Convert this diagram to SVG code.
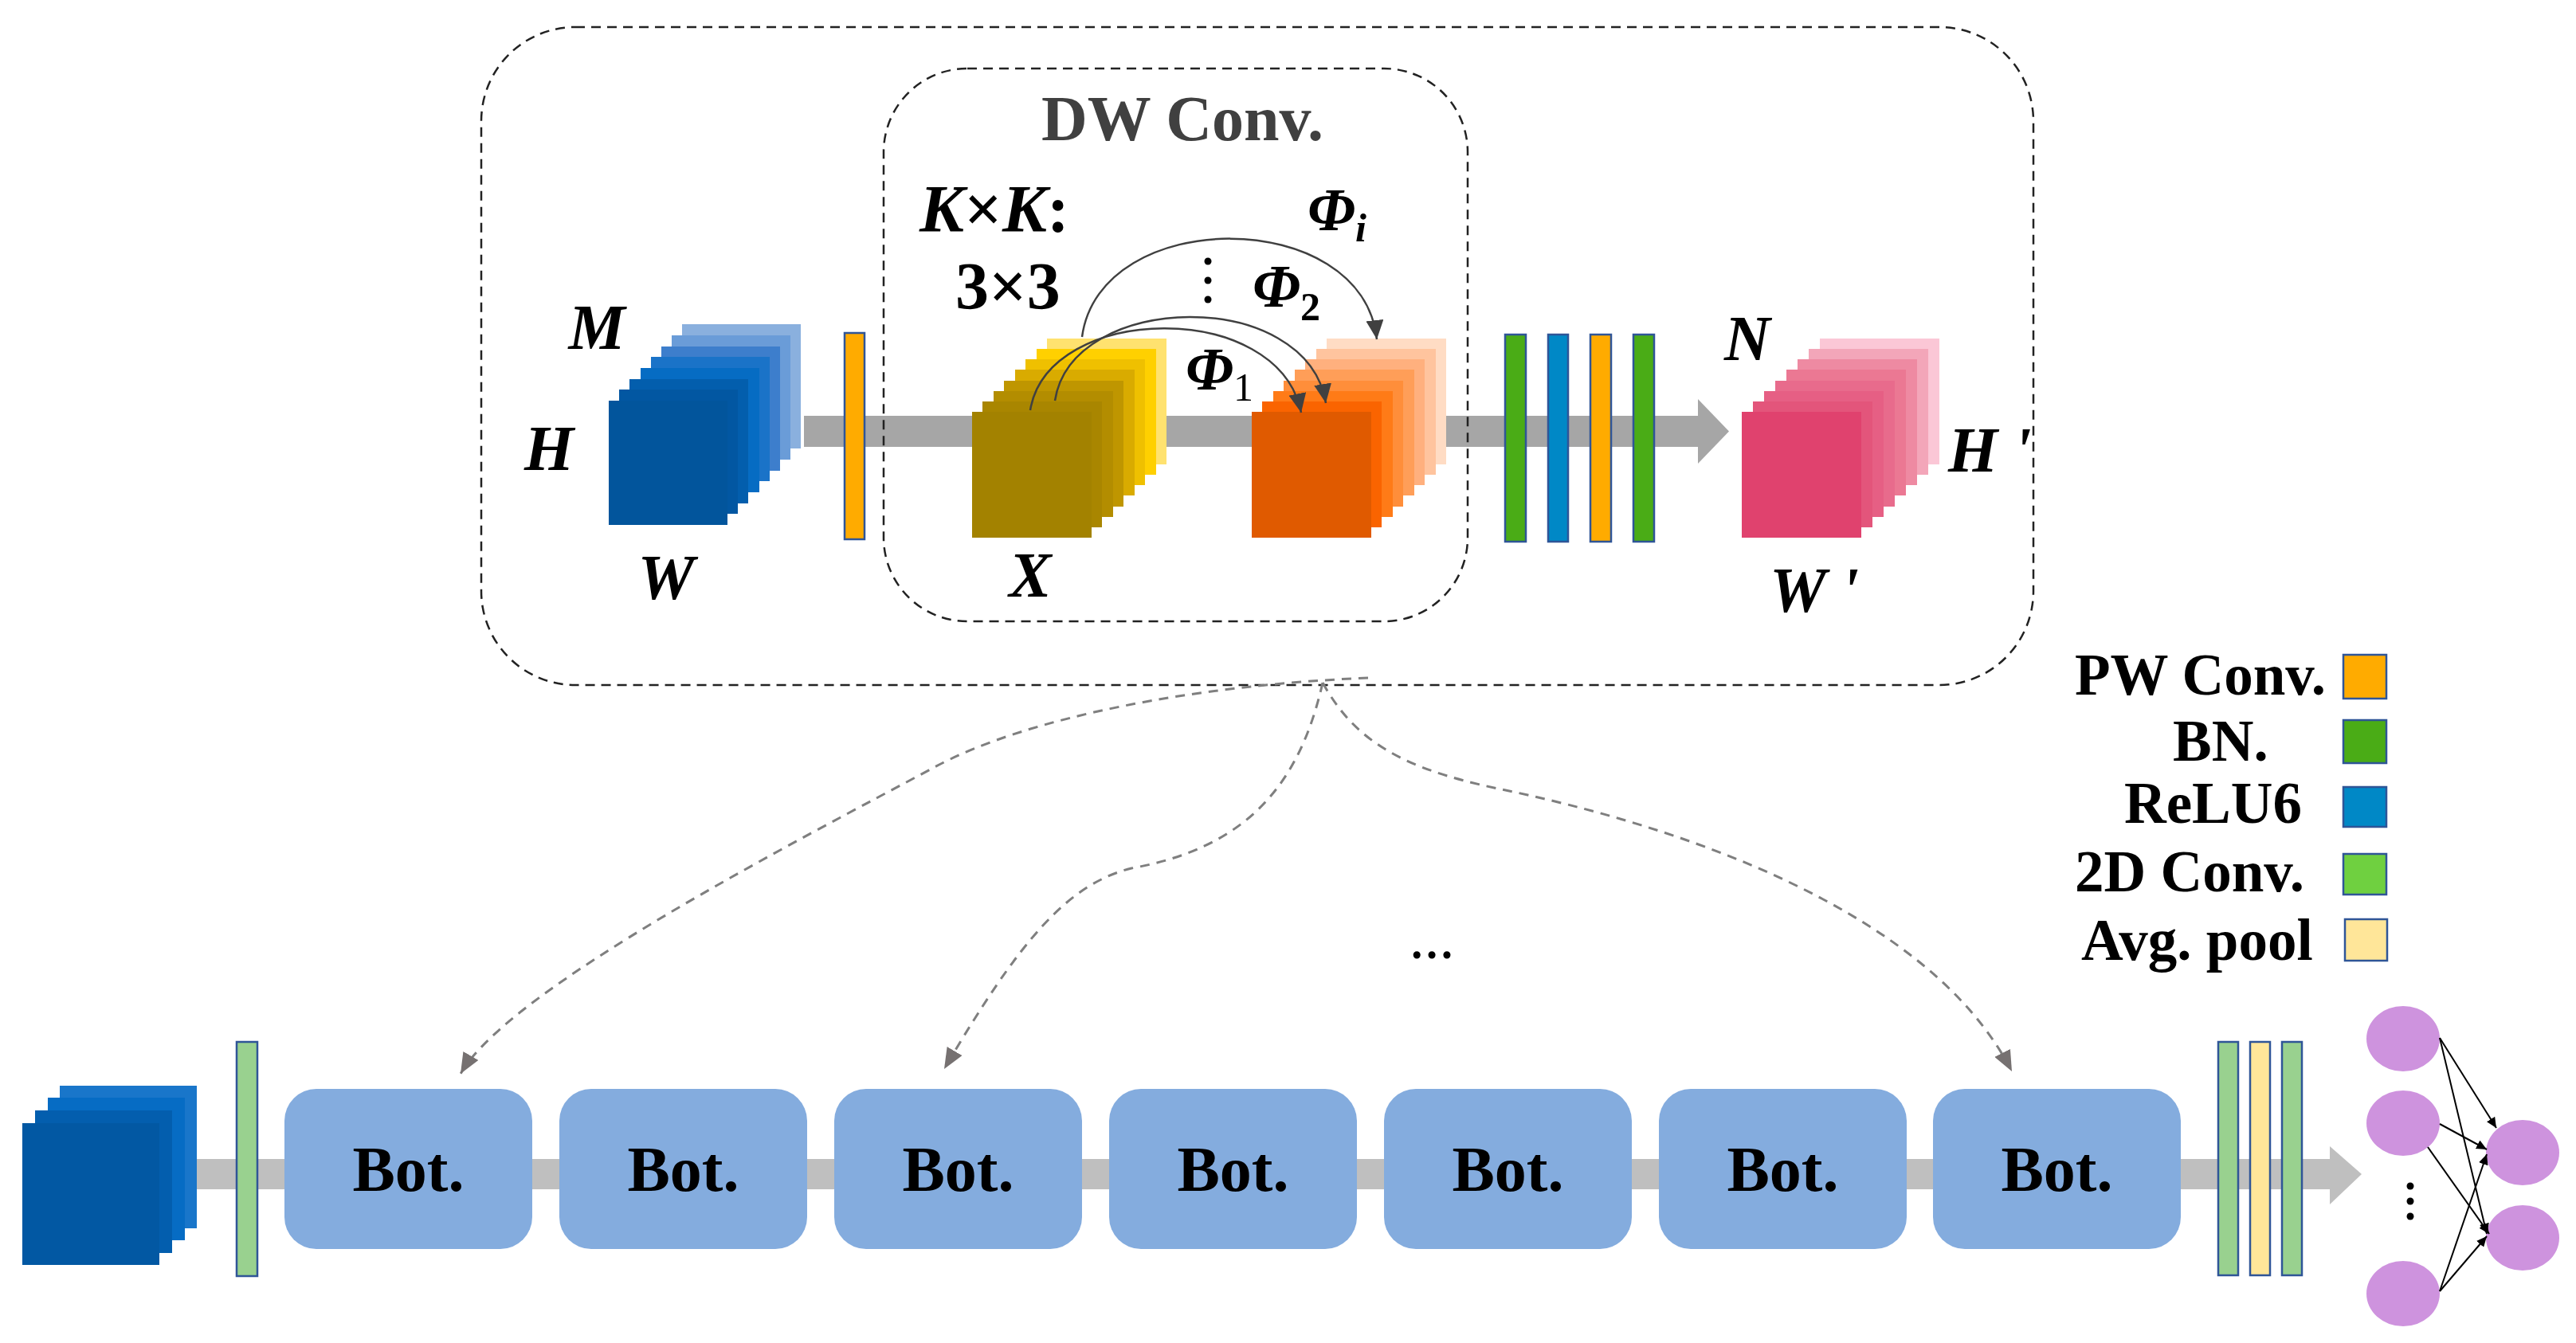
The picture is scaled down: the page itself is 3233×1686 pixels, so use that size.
<svg xmlns="http://www.w3.org/2000/svg" width="3233" height="1686" viewBox="0 0 3233 1686">
<style>
.box{fill:none;stroke:#222;stroke-width:2.5;stroke-dasharray:12 8}
.bar{stroke:#2F5597;stroke-width:2.5}
.t{font-family:"Liberation Serif","Times New Roman",serif;font-weight:bold;fill:#000}
.ti{font-family:"Liberation Serif","Times New Roman",serif;font-weight:bold;font-style:italic;fill:#000}
.arc{fill:none;stroke:#404040;stroke-width:2.5}
.dash{fill:none;stroke:#7F7F7F;stroke-width:3;stroke-dasharray:12 9}
.bot{fill:#84ACDE}
.nn{fill:#CE93DE}
.nl{stroke:#000;stroke-width:2}
</style>
<defs>
<marker id="ah" markerUnits="userSpaceOnUse" markerWidth="26" markerHeight="22" refX="24" refY="11" orient="auto"><path d="M0,0 L24,11 L0,22 Z" fill="#404040"/></marker>
<marker id="gh" markerUnits="userSpaceOnUse" markerWidth="28" markerHeight="22" refX="26" refY="11" orient="auto"><path d="M0,0 L26,11 L0,22 Z" fill="#767171"/></marker>
<marker id="bh" markerUnits="userSpaceOnUse" markerWidth="14" markerHeight="12" refX="13" refY="6" orient="auto"><path d="M0,0 L13,6 L0,12 Z" fill="#000"/></marker>
</defs>

<g id="block-frame">
<rect class="box" x="604" y="34" width="1948" height="826" rx="118" ry="118"/>
</g>

<g id="top-flow">
<rect x="1009" y="522" width="1122" height="39" fill="#A6A6A6"/>
<polygon points="2131,501 2170,541.5 2131,582" fill="#A6A6A6"/>
</g>

<g id="dw-frame">
<rect class="box" x="1109" y="86" width="733" height="694" rx="105" ry="105"/>
<text class="t" x="1484" y="176" font-size="80" text-anchor="middle" fill="#404040" style="fill:#404040">DW Conv.</text>
</g>

<g id="input-tensor">
<rect x="856" y="407" width="149" height="156" fill="#8AB0DE"/>
<rect x="843" y="421" width="149" height="156" fill="#6A9CD8"/>
<rect x="830" y="435" width="149" height="156" fill="#3D7ECC"/>
<rect x="817" y="448" width="149" height="156" fill="#1A73C8"/>
<rect x="804" y="462" width="149" height="156" fill="#066CC3"/>
<rect x="790" y="476" width="149" height="156" fill="#035EAD"/>
<rect x="777" y="489" width="149" height="156" fill="#0257A2"/>
<rect x="764" y="503" width="149" height="156" fill="#02559C"/>
<text class="ti" x="749" y="438" font-size="80" text-anchor="middle">M</text>
<text class="ti" x="689" y="590" font-size="80" text-anchor="middle">H</text>
<text class="ti" x="836" y="752" font-size="80" text-anchor="middle">W</text>
</g>

<g id="pw-conv-1">
<rect class="bar" x="1060" y="418" width="25" height="259" fill="#FFAB00"/>
</g>

<g id="x-tensor">
<rect x="1314" y="425" width="150" height="158" fill="#FFE26F"/>
<rect x="1301" y="438" width="150" height="158" fill="#FFD000"/>
<rect x="1287" y="451" width="150" height="158" fill="#EFC000"/>
<rect x="1274" y="464" width="150" height="158" fill="#D9AB00"/>
<rect x="1260" y="478" width="150" height="158" fill="#BF9600"/>
<rect x="1247" y="491" width="150" height="158" fill="#B38D00"/>
<rect x="1233" y="504" width="150" height="158" fill="#A98600"/>
<rect x="1220" y="517" width="150" height="158" fill="#A38200"/>
<text class="ti" x="1293" y="749" font-size="80" text-anchor="middle">X</text>
<text class="t" x="1154" y="291" font-size="84"><tspan font-style="italic">K</tspan>×<tspan font-style="italic">K</tspan>:</text>
<text class="t" x="1199" y="388" font-size="84">3×3</text>
</g>

<g id="dw-output">
<rect x="1665" y="425" width="150" height="158" fill="#FFDCC4"/>
<rect x="1652" y="438" width="150" height="158" fill="#FFC49E"/>
<rect x="1638" y="451" width="150" height="158" fill="#FFB07E"/>
<rect x="1625" y="464" width="150" height="158" fill="#FF9E58"/>
<rect x="1611" y="478" width="150" height="158" fill="#FF8E3A"/>
<rect x="1598" y="491" width="150" height="158" fill="#FF7B17"/>
<rect x="1584" y="504" width="150" height="158" fill="#FA6400"/>
<rect x="1571" y="517" width="150" height="158" fill="#E05A00"/>
</g>

<g id="dw-kernels">
<path class="arc" d="M1358,423 C1380,258 1710,258 1728,426" marker-end="url(#ah)"/>
<path class="arc" d="M1324,503 C1345,365 1640,360 1664,506" marker-end="url(#ah)"/>
<path class="arc" d="M1293,515 C1315,380 1605,375 1633,518" marker-end="url(#ah)"/>
<circle cx="1516" cy="328" r="4.5" fill="#000"/>
<circle cx="1516" cy="352" r="4.5" fill="#000"/>
<circle cx="1516" cy="376" r="4.5" fill="#000"/>
<text class="ti" x="1641" y="289" font-size="76">Φ<tspan font-size="50" dy="14">i</tspan></text>
<text class="ti" x="1572" y="385" font-size="76">Φ<tspan font-size="50" dy="17" font-style="normal">2</tspan></text>
<text class="ti" x="1488" y="489" font-size="76">Φ<tspan font-size="50" dy="14" font-style="normal" font-weight="normal">1</tspan></text>
</g>

<g id="post-layers">
<rect class="bar" x="1889" y="420" width="26" height="260" fill="#4AAC16"/>
<rect class="bar" x="1943" y="420" width="25" height="260" fill="#0088C6"/>
<rect class="bar" x="1996" y="420" width="26" height="260" fill="#FFAB00"/>
<rect class="bar" x="2050" y="420" width="26" height="260" fill="#4AAC16"/>
</g>

<g id="output-tensor">
<rect x="2284" y="425" width="150" height="158" fill="#FBC7D6"/>
<rect x="2270" y="438" width="150" height="158" fill="#F3A6B9"/>
<rect x="2256" y="451" width="150" height="158" fill="#EE8AA2"/>
<rect x="2242" y="464" width="150" height="158" fill="#EB7893"/>
<rect x="2228" y="478" width="150" height="158" fill="#E86B8C"/>
<rect x="2214" y="491" width="150" height="158" fill="#E65F84"/>
<rect x="2200" y="504" width="150" height="158" fill="#E3557B"/>
<rect x="2186" y="517" width="150" height="158" fill="#E0426E"/>
<text class="ti" x="2193" y="452" font-size="80" text-anchor="middle">N</text>
<text class="ti" x="2445" y="592" font-size="80" xml:space="preserve">H '</text>
<text class="ti" x="2221" y="768" font-size="80" xml:space="preserve">W '</text>
</g>

<g id="legend">
<text class="t" x="2604" y="872" font-size="73">PW Conv.</text>
<rect class="bar" x="2941" y="822" width="54" height="55" fill="#FFAB00"/>
<text class="t" x="2727" y="955" font-size="73">BN.</text>
<rect class="bar" x="2941" y="904" width="54" height="54" fill="#4AAC16"/>
<text class="t" x="2666" y="1033" font-size="73">ReLU6</text>
<rect class="bar" x="2941" y="988" width="54" height="50" fill="#0088C6"/>
<text class="t" x="2604" y="1119" font-size="73">2D Conv.</text>
<rect class="bar" x="2941" y="1072" width="54" height="51" fill="#6FD040"/>
<text class="t" x="2612" y="1205" font-size="73">Avg. pool</text>
<rect class="bar" x="2943" y="1154" width="53" height="52" fill="#FFE699"/>
</g>

<g id="bottom-flow">
<rect x="247" y="1455" width="2677" height="38" fill="#BFBFBF"/>
<polygon points="2924,1439 2964,1474 2924,1512" fill="#BFBFBF"/>
</g>

<g id="input-image">
<rect x="75" y="1363" width="172" height="179" fill="#1976CA"/>
<rect x="60" y="1378" width="172" height="179" fill="#066CC4"/>
<rect x="44" y="1394" width="172" height="179" fill="#035EAE"/>
<rect x="28" y="1410" width="172" height="178" fill="#0258A3"/>
</g>

<g id="conv2d-in">
<rect class="bar" x="297" y="1308" width="26" height="294" fill="#99D18F"/>
</g>

<g id="bot-1"><rect class="bot" x="357" y="1367" width="311" height="201" rx="40"/><text class="t" x="512.5" y="1495" font-size="80" text-anchor="middle">Bot.</text></g>
<g id="bot-2"><rect class="bot" x="702" y="1367" width="311" height="201" rx="40"/><text class="t" x="857.5" y="1495" font-size="80" text-anchor="middle">Bot.</text></g>
<g id="bot-3"><rect class="bot" x="1047" y="1367" width="311" height="201" rx="40"/><text class="t" x="1202.5" y="1495" font-size="80" text-anchor="middle">Bot.</text></g>
<g id="bot-4"><rect class="bot" x="1392" y="1367" width="311" height="201" rx="40"/><text class="t" x="1547.5" y="1495" font-size="80" text-anchor="middle">Bot.</text></g>
<g id="bot-5"><rect class="bot" x="1737" y="1367" width="311" height="201" rx="40"/><text class="t" x="1892.5" y="1495" font-size="80" text-anchor="middle">Bot.</text></g>
<g id="bot-6"><rect class="bot" x="2082" y="1367" width="311" height="201" rx="40"/><text class="t" x="2237.5" y="1495" font-size="80" text-anchor="middle">Bot.</text></g>
<g id="bot-7"><rect class="bot" x="2426" y="1367" width="311" height="201" rx="40"/><text class="t" x="2581.5" y="1495" font-size="80" text-anchor="middle">Bot.</text></g>

<g id="head-layers">
<rect class="bar" x="2784" y="1308" width="25" height="293" fill="#99D18F"/>
<rect class="bar" x="2824" y="1308" width="25" height="293" fill="#FFE699"/>
<rect class="bar" x="2864" y="1308" width="25" height="293" fill="#99D18F"/>
</g>

<g id="classifier">
<ellipse class="nn" cx="3016" cy="1304" rx="46" ry="41"/>
<ellipse class="nn" cx="3016" cy="1410" rx="46" ry="41"/>
<ellipse class="nn" cx="3016" cy="1624" rx="46" ry="41"/>
<ellipse class="nn" cx="3166" cy="1447" rx="46" ry="41"/>
<ellipse class="nn" cx="3166" cy="1554" rx="46" ry="41"/>
<circle cx="3025" cy="1489" r="4.5" fill="#000"/>
<circle cx="3025" cy="1508" r="4.5" fill="#000"/>
<circle cx="3025" cy="1527" r="4.5" fill="#000"/>
</g>

<g id="connectors">
<line class="nl" x1="3062" y1="1303" x2="3133" y2="1416" marker-end="url(#bh)"/>
<line class="nl" x1="3062" y1="1303" x2="3121" y2="1549" marker-end="url(#bh)"/>
<line class="nl" x1="3062" y1="1411" x2="3121" y2="1443" marker-end="url(#bh)"/>
<line class="nl" x1="3047" y1="1440" x2="3124" y2="1549" marker-end="url(#bh)"/>
<line class="nl" x1="3062" y1="1621" x2="3121" y2="1449" marker-end="url(#bh)"/>
<line class="nl" x1="3062" y1="1621" x2="3121" y2="1552" marker-end="url(#bh)"/>
<path class="dash" d="M1717,851 C1500,860 1290,900 1173,963 C1000,1056 640,1240 578,1348" marker-end="url(#gh)"/>
<path class="dash" d="M1660,857 C1630,990 1560,1065 1420,1090 C1340,1110 1280,1180 1185,1342" marker-end="url(#gh)"/>
<path class="dash" d="M1660,857 C1700,930 1760,965 1880,990 C2100,1035 2420,1140 2525,1345" marker-end="url(#gh)"/>
<text class="t" x="1797" y="1203" font-size="56" text-anchor="middle" font-weight="normal">…</text>
</g>
</svg>
